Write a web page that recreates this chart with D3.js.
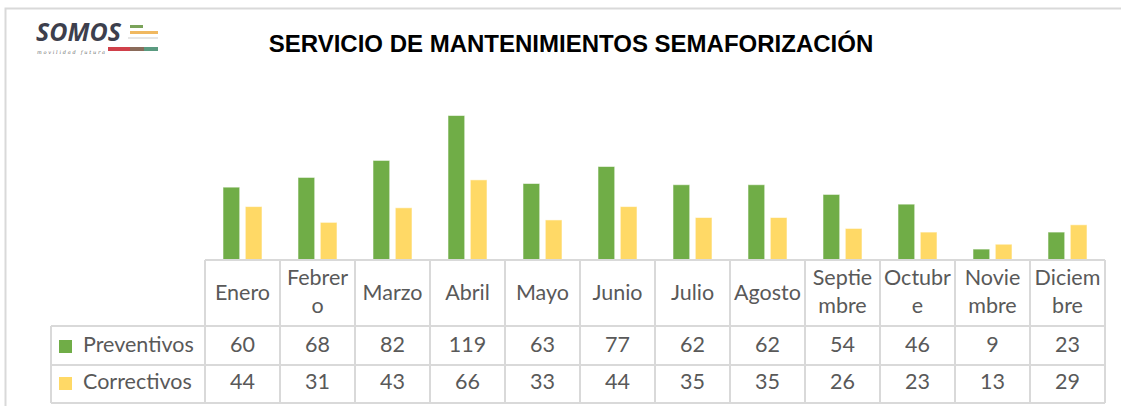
<!DOCTYPE html>
<html>
<head>
<meta charset="utf-8">
<script src="https://cdn.jsdelivr.net/npm/d3@7"></script>
<style>
  body { margin: 0; background: #fff; }
  svg { display: block; }
</style>
</head>
<body>
<svg width="1121" height="406"></svg>
<script>
// data
const months = ['Enero', 'Febrero', 'Marzo', 'Abril', 'Mayo', 'Junio', 'Julio',
                'Agosto', 'Septiembre', 'Octubre', 'Noviembre', 'Diciembre'];
// header labels as they wrap in the table cells
const monthLines = [['Enero'], ['Febrer', 'o'], ['Marzo'], ['Abril'], ['Mayo'], ['Junio'],
                    ['Julio'], ['Agosto'], ['Septie', 'mbre'], ['Octubr', 'e'],
                    ['Novie', 'mbre'], ['Diciem', 'bre']];
const seriesNames = ['Preventivos', 'Correctivos'];
const preventivos = [60, 68, 82, 119, 63, 77, 62, 62, 54, 46, 9, 23];
const correctivos = [44, 31, 43, 66, 33, 44, 35, 35, 26, 23, 13, 29];
const colors = ['#70AD47', '#FFD966'];

const TITLE = 'SERVICIO DE MANTENIMIENTOS SEMAFORIZACIÓN';
const FONT = 'Lato, "Open Sans", sans-serif';
const FS = 21.5;
const GRID = '#d9d9d9';
const TXT = '#595959';

const values = [preventivos, correctivos];

function main() {
    const svg = d3.select('svg');

    // chart frame
    svg.append('path')
       .attr('d', 'M5.5,406 V8.5 H1121')
       .attr('fill', 'none').attr('stroke', GRID).attr('stroke-width', 2);

    drawLogo(svg);

    svg.append('text')
       .attr('x', 571).attr('y', 52)
       .attr('text-anchor', 'middle')
       .attr('font-family', 'Arial, "Liberation Sans", sans-serif')
       .attr('font-weight', 'bold').attr('font-size', 24)
       .attr('fill', '#000')
       .text(TITLE);

    // scales
    const x0 = d3.scaleBand().domain(months).range([205, 1105]).paddingInner(0);
    const x1 = d3.scaleBand().domain(seriesNames).range([18, 57]).paddingInner(0.25);
    const y = d3.scaleLinear().domain([0, 120]).range([260, 114.3]);

    // bars
    const groups = svg.append('g').selectAll('g')
        .data(months).join('g')
        .attr('transform', d => `translate(${x0(d)},0)`);
    groups.selectAll('rect')
        .data((m, i) => seriesNames.map((s, k) => ({s: s, k: k, v: values[k][i]})))
        .join('rect')
        .attr('x', d => x1(d.s))
        .attr('width', x1.bandwidth())
        .attr('y', d => y(d.v))
        .attr('height', d => y(0) - y(d.v))
        .attr('fill', d => colors[d.k])
        .attr('stroke', 'rgba(255,255,255,0.55)')
        .attr('stroke-width', 1);

    drawTable(svg, x0);
}

function drawTable(svg, x0) {
    const rows = [260, 326, 365, 403];
    const left = 51, right = x0.range()[1];
    const g = svg.append('g').attr('stroke', GRID).attr('stroke-width', 2);

    // horizontal lines
    g.append('line').attr('x1', x0.range()[0]).attr('x2', right).attr('y1', rows[0]).attr('y2', rows[0]);
    rows.slice(1).forEach(r =>
        g.append('line').attr('x1', left).attr('x2', right).attr('y1', r).attr('y2', r));
    // vertical lines
    g.append('line').attr('x1', left).attr('x2', left).attr('y1', rows[1]).attr('y2', rows[3]);
    months.forEach(m =>
        g.append('line').attr('x1', x0(m)).attr('x2', x0(m)).attr('y1', rows[0]).attr('y2', rows[3]));
    g.append('line').attr('x1', right).attr('x2', right).attr('y1', rows[0]).attr('y2', rows[3]);

    const cx = m => x0(m) + x0.bandwidth() / 2;

    // header
    const head = svg.append('g').attr('font-family', FONT).attr('font-size', FS)
                    .attr('fill', TXT).attr('text-anchor', 'middle');
    months.forEach((m, i) => {
        const lines = monthLines[i];
        const base = lines.length === 1 ? [300] : [285, 313];
        lines.forEach((t, j) =>
            head.append('text').attr('x', cx(m)).attr('y', base[j]).text(t));
    });

    // series rows
    const baselines = [352, 389];
    seriesNames.forEach((s, k) => {
        svg.append('rect')
           .attr('x', 59).attr('y', baselines[k] - 12)
           .attr('width', 13).attr('height', 13)
           .attr('fill', colors[k]);
        svg.append('text')
           .attr('x', 83).attr('y', baselines[k])
           .attr('font-family', FONT).attr('font-size', FS).attr('fill', TXT)
           .text(s);
        const row = svg.append('g').attr('font-family', FONT).attr('font-size', FS)
                       .attr('fill', TXT).attr('text-anchor', 'middle');
        row.selectAll('text').data(values[k]).join('text')
           .attr('x', (d, i) => cx(months[i]))
           .attr('y', baselines[k])
           .text(d => d);
    });
}

// logo: word mark, coloured stripes, tagline
function drawLogo(svg) {
    const g = svg.append('g');
    g.append('text')
     .attr('x', 36).attr('y', 41)
     .attr('font-family', '"Open Sans", sans-serif')
     .attr('font-style', 'italic').attr('font-weight', 'bold')
     .attr('font-size', 25).attr('fill', '#3d3f4d')
     .text('SOMOS');
    g.append('text')
     .attr('x', 37).attr('y', 53.5)
     .attr('font-family', '"DejaVu Serif", serif').attr('font-style', 'italic')
     .attr('font-size', 5).attr('fill', '#6a6a6a')
     .attr('textLength', 68)
     .text('movilidad futura');
    g.append('rect').attr('x', 130).attr('y', 25).attr('width', 13).attr('height', 3).attr('fill', '#7aa35a');
    g.append('rect').attr('x', 130).attr('y', 31).attr('width', 28).attr('height', 3).attr('fill', '#f0b860');
    g.append('rect').attr('x', 128).attr('y', 37).attr('width', 30).attr('height', 2).attr('fill', '#e6e6e6');
    g.append('rect').attr('x', 108).attr('y', 47).attr('width', 22).attr('height', 4).attr('fill', '#d0404a');
    g.append('rect').attr('x', 130).attr('y', 47).attr('width', 14).attr('height', 4).attr('fill', '#8a6b5a');
    g.append('rect').attr('x', 144).attr('y', 47).attr('width', 14).attr('height', 4).attr('fill', '#5a9a80');
}

window.onload = main;
</script>
</body>
</html>
